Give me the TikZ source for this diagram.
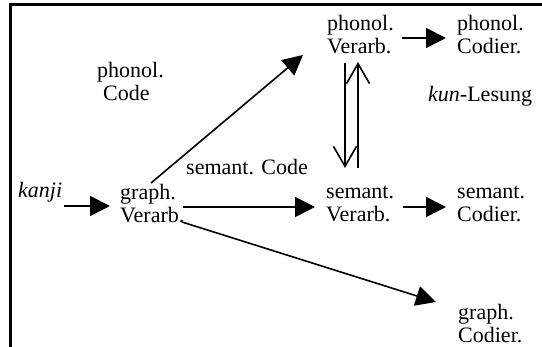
\documentclass[tikz,border=0pt]{standalone}
\usepackage{fontspec}
\setmainfont{Liberation Serif}
\usetikzlibrary{arrows.meta,calc}
\newcommand{\twol}[2]{\begin{tabular}[t]{@{}l@{}}#1\\#2\end{tabular}}
\begin{document}
\begin{tikzpicture}[x=1pt,y=-1pt,
  lbl/.style={anchor=base west,inner sep=0pt,font=\fontsize{22}{23}\selectfont},
  conn/.style={line width=1.6pt,-{Triangle[length=20pt,width=20pt]}},
  barb/.style={line width=1.6pt,-{Straight Barb[length=20pt,width=23pt]}},
]
\useasboundingbox (0,0) rectangle (542,347);
\draw[line width=3pt] (542,5) -- (10.5,5) -- (10.5,347);

\node[lbl] (pc) at (97,78) {\twol{phonol.}{\hspace*{6pt}Code}};
\node[lbl] (pv) at (327,31) {\twol{phonol.}{Verarb.}};
\node[lbl] (pcod) at (457,31) {\twol{phonol.}{Codier.}};
\node[lbl] (kun) at (428,102) {\textit{kun}-Lesung};
\node[lbl] (sc) at (186,175) {semant. Code};
\node[lbl] (kanji) at (18,198) {\textit{kanji}};
\node[lbl] (gv) at (120,200) {\twol{graph.}{Verarb.}};
\node[lbl] (sv) at (326,199) {\twol{semant.}{Verarb.}};
\node[lbl] (scod) at (457,199) {\twol{semant.}{Codier.}};
\node[lbl] (gcod) at (458,320) {\twol{graph.}{Codier.}};

\draw[conn] ($(kanji.base west)+(46,8)$) -- ($(gv.base west)+(-10,6)$);
\draw[conn] ($(gv.base west)+(31,-17)$) -- ($(pv.base west)+(-24,24)$);
\draw[conn] ($(gv.base west)+(63,7)$) -- ($(sv.base west)+(-11,8)$);
\draw[conn] ($(gv.base west)+(62,22)$) -- ($(gcod.base west)+(-22,-18)$);
\draw[conn] ($(pv.base west)+(75,7)$) -- ($(pcod.base west)+(-11,7)$);
\draw[conn] ($(sv.base west)+(77,8)$) -- ($(scod.base west)+(-11,8)$);
\draw[barb] ($(pv.base west)+(18,32)$) -- ($(sv.base west)+(19,-31)$);
\draw[barb] ($(sv.base west)+(32,-31)$) -- ($(pv.base west)+(31,31)$);
\end{tikzpicture}
\end{document}
